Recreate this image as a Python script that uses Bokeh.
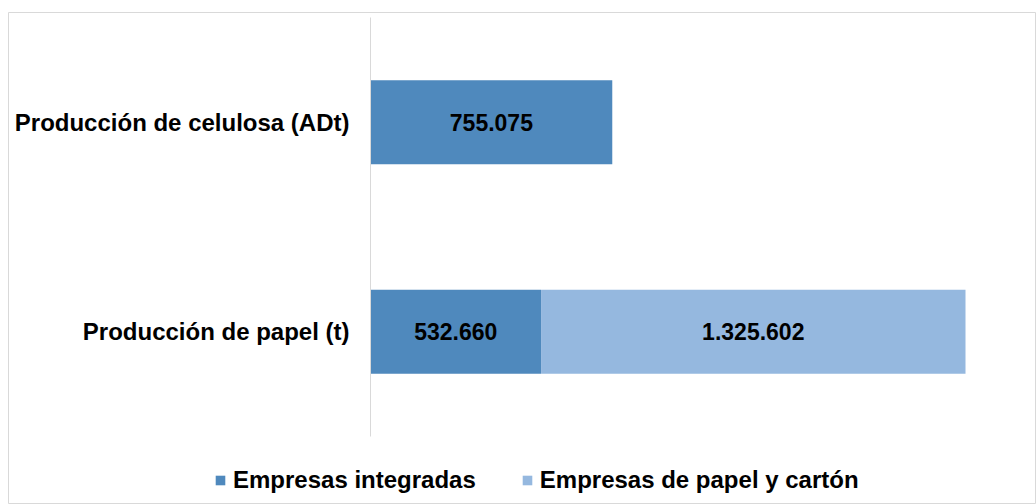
from bokeh.plotting import figure
from bokeh.models import ColumnDataSource, Range1d, Legend, LegendItem, FixedTicker
from bokeh.core.properties import value
from bokeh.embed import file_html
from bokeh.resources import INLINE

categories = ["Producción de papel (t)", "Producción de celulosa (ADt)"]
series_names = ["Empresas integradas", "Empresas de papel y cartón"]
integradas = [532660, 755075]
papel_carton = [1325602, 0]
colors = ["#4F89BD", "#95B8DF"]

FONT = value("Liberation Sans")

ypos = list(range(len(categories)))
source = ColumnDataSource(data=dict(y=ypos, integradas=integradas, carton=papel_carton))

p = figure(width=1036, height=504,
           x_range=Range1d(-1130562, 2079985), y_range=Range1d(-0.8246, 1.5239),
           output_backend="svg", toolbar_location=None,
           min_border_left=8, min_border_right=0, min_border_top=12, min_border_bottom=0)

r = p.hbar_stack(["integradas", "carton"], y="y", height=0.40, color=colors,
                 line_color=None, source=source)

# value labels
lx, ly, lt = [], [], []
for yv, a, b in zip(ypos, integradas, papel_carton):
    if a:
        lx.append(a / 2); ly.append(yv); lt.append(f"{a:,}".replace(",", "."))
    if b:
        lx.append(a + b / 2); ly.append(yv); lt.append(f"{b:,}".replace(",", "."))
p.text(x=lx, y=ly, text=lt, text_align="center", text_baseline="middle",
       text_font=FONT, text_font_style="bold", text_font_size="23px", text_color="black")

p.xaxis.visible = False
p.xgrid.visible = False
p.ygrid.visible = False
p.outline_line_color = "#d9d9d9"

ax = p.yaxis[0]
ax.fixed_location = 0
ax.bounds = (-0.5, len(categories) - 0.5)
ax.ticker = FixedTicker(ticks=ypos)
ax.major_label_overrides = {i: c for i, c in zip(ypos, categories)}
ax.axis_line_color = "#d9d9d9"
ax.major_tick_line_color = None
ax.minor_tick_line_color = None
ax.major_tick_in = 0
ax.major_tick_out = 0
ax.major_label_text_font = "Liberation Sans"
ax.major_label_text_font_style = "bold"
ax.major_label_text_font_size = "24px"
ax.major_label_text_color = "black"
ax.major_label_standoff = 21

legend = Legend(items=[LegendItem(label=series_names[i], renderers=[r[i]]) for i in range(2)],
                orientation="horizontal", location=(206, 10),
                glyph_width=12, glyph_height=12, label_standoff=7, spacing=45,
                padding=0, margin=0, border_line_color=None, background_fill_alpha=0,
                label_text_font="Liberation Sans", label_text_font_style="bold",
                label_text_font_size="24px", label_text_color="black")
p.add_layout(legend, "center")

open("out.html", "w").write(file_html(p, INLINE))
